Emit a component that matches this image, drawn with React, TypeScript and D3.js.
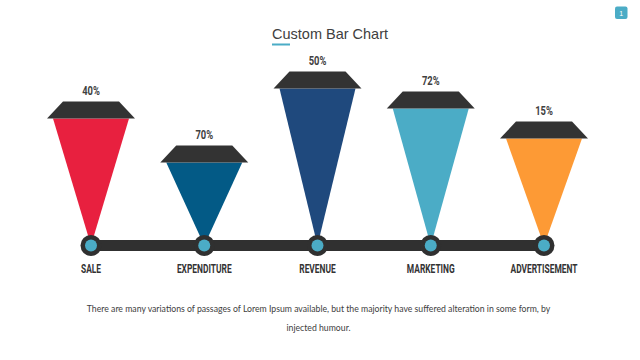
import React from "react";
import * as d3 from "d3";

const categories = ["SALE", "EXPENDITURE", "REVENUE", "MARKETING", "ADVERTISEMENT"];
const valueLabels = ["40%", "70%", "50%", "72%", "15%"];
const coneHeights = [72, 50, 87, 77, 62];
const coneColors = ["#E8203F", "#035A86", "#1F497D", "#4BACC6", "#FD9A35"];

const W = 640;
const H = 360;
const baseY = 245.5;
const capH = 17;

export default function App() {
  const x = d3.scalePoint<string>().domain(categories).range([91, 544]);
  const y = d3.scaleLinear().domain([0, 100]).range([baseY, baseY - 200]);

  const capPath = (cx: number, top: number) => {
    const p = d3.path();
    p.moveTo(cx - 28, top);
    p.lineTo(cx + 28, top);
    p.lineTo(cx + 44, top + capH);
    p.lineTo(cx - 44, top + capH);
    p.closePath();
    return p.toString();
  };
  const conePath = (cx: number, top: number) => {
    const p = d3.path();
    p.moveTo(cx - 38, top + capH);
    p.lineTo(cx + 38, top + capH);
    p.lineTo(cx, baseY);
    p.closePath();
    return p.toString();
  };

  const condensed = "Roboto, 'Liberation Sans', sans-serif";

  return (
    <svg
      width={W}
      height={H}
      viewBox={`0 0 ${W} ${H}`}
      style={{ position: "absolute", left: 0, top: 0, background: "#fff" }}
    >
      <rect x={0} y={0} width={W} height={H} fill="#fff" />
      {/* page badge */}
      <rect x={615} y={6.5} width={12.5} height={12.5} rx={2} fill="#4BACC6" />
      <text x={621.3} y={15.5} textAnchor="middle" fontSize={7} fill="#fff" fontFamily="'Liberation Sans', sans-serif">1</text>

      {/* title */}
      <text x={272} y={39} fontSize={14.5} fill="#404040" fontFamily="'Liberation Sans', Arial, sans-serif">
        Custom Bar Chart
      </text>
      <rect x={272} y={43.5} width={18} height={2} fill="#4BACC6" />

      {/* axis bar */}
      <line
        x1={x(categories[0])}
        x2={x(categories[categories.length - 1])}
        y1={baseY}
        y2={baseY}
        stroke="#303030"
        strokeWidth={11}
      />

      {categories.map((c, i) => {
        const cx = x(c) as number;
        const top = y(coneHeights[i]);
        return (
          <g key={c}>
            <path d={conePath(cx, top)} fill={coneColors[i]} />
            <path d={capPath(cx, top)} fill="#333333" />
            <text
              transform={`translate(${cx},${top - 7}) scale(0.75,1)`}
              textAnchor="middle"
              fontSize={12.5}
              fontWeight={700}
              fill="#404040"
              fontFamily={condensed}
            >
              {valueLabels[i]}
            </text>
            <circle cx={cx} cy={baseY} r={10.5} fill="#303030" />
            <circle cx={cx} cy={baseY} r={6} fill="#4BACC6" />
            <text
              transform={`translate(${cx},${273}) scale(0.7,1)`}
              textAnchor="middle"
              fontSize={12}
              fontWeight={700}
              fill="#333"
              fontFamily={condensed}
            >
              {c}
            </text>
          </g>
        );
      })}

      {/* footer */}
      <text x={318.5} y={312} textAnchor="middle" fontSize={8.7} fill="#404040" fontFamily="Lato, 'Open Sans', sans-serif">
        There are many variations of passages of Lorem Ipsum available, but the majority have suffered alteration in some form, by
      </text>
      <text x={318.5} y={331} textAnchor="middle" fontSize={8.7} fill="#404040" fontFamily="Lato, 'Open Sans', sans-serif">
        injected humour.
      </text>
    </svg>
  );
}
